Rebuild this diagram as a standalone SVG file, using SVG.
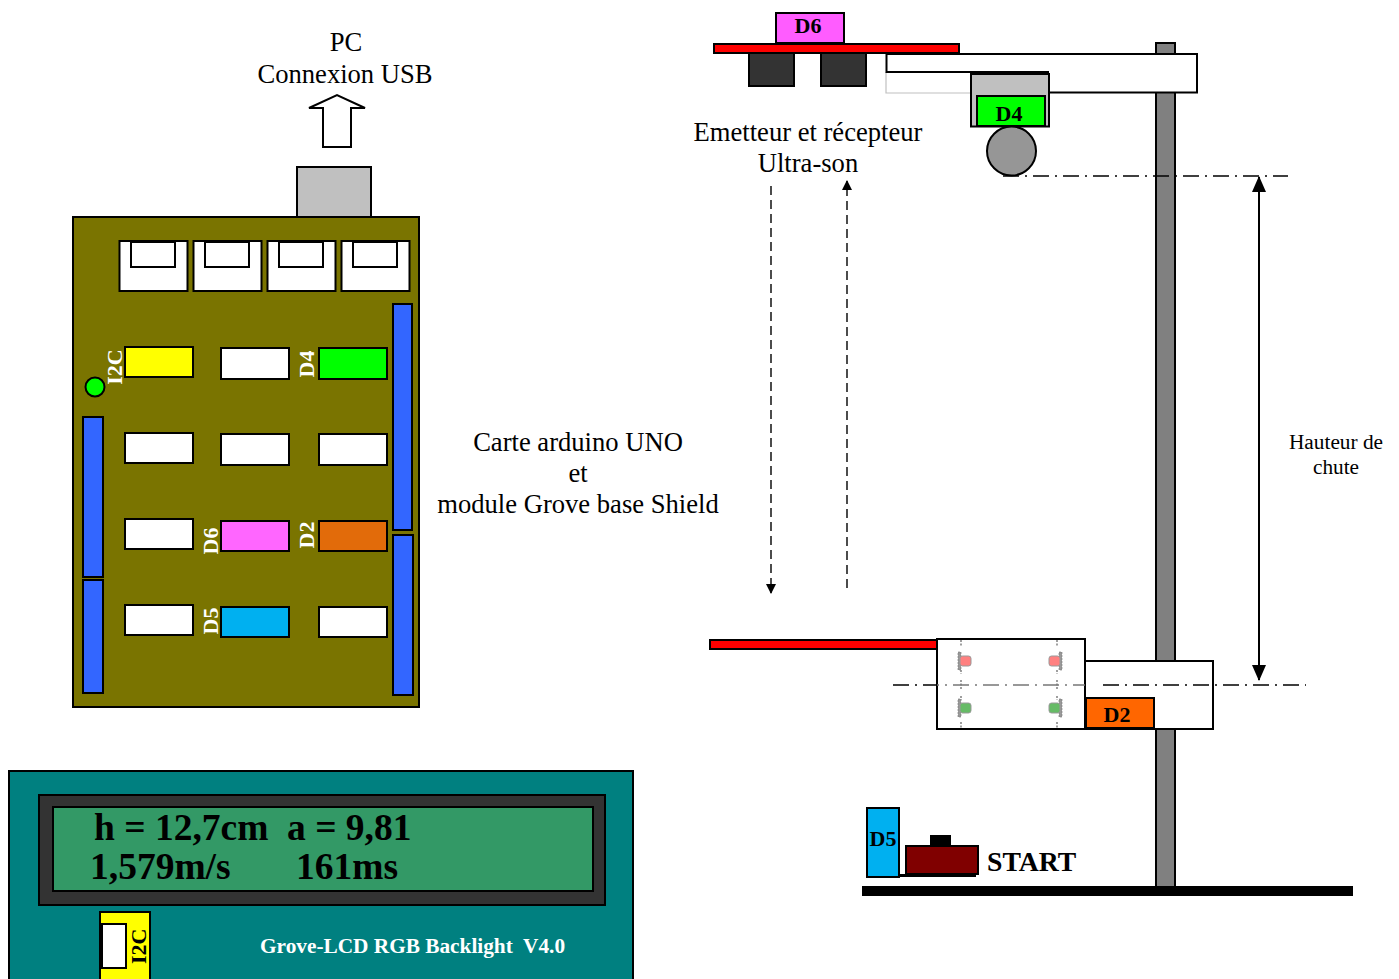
<svg xmlns="http://www.w3.org/2000/svg" width="1399" height="979" viewBox="0 0 1399 979">
<style>
text{font-family:"Liberation Serif","Times New Roman",serif;fill:#000}
.s{stroke:#000;stroke-width:2}
.w{fill:#fff;stroke:#000;stroke-width:2}
.b{fill:#3366ff;stroke:#000;stroke-width:2}
.t{font-size:26.6px;text-anchor:middle}
.l{font-weight:bold;font-size:22px;text-anchor:middle}
.r{font-weight:bold;font-size:22px;fill:#fff;text-anchor:middle}
.lcd{font-weight:bold;font-size:37.5px}
.cd{fill:none;stroke:#000;stroke-width:1.6;stroke-dasharray:16 6 2 6}
.d{fill:none;stroke:#000;stroke-width:1.4;stroke-dasharray:9 5}
.led{stroke:#999;stroke-width:1}
.bar{fill:#999;stroke:#777;stroke-width:.6;stroke-dasharray:2 1}
.tick{stroke:#777;stroke-width:1.4;stroke-dasharray:2 1.5;fill:none}
</style>
<defs>
<marker id="a" markerWidth="10" markerHeight="10" refX="9" refY="5" orient="auto" markerUnits="userSpaceOnUse"><path d="M0,0L10,5L0,10Z"/></marker>
<marker id="A" markerWidth="16" markerHeight="14" refX="15" refY="7" orient="auto-start-reverse" markerUnits="userSpaceOnUse"><path d="M0,0L16,7L0,14Z"/></marker>
</defs>

<g id="pc-label"><text class="t" x="346" y="51">PC</text><text class="t" x="345" y="83">Connexion USB</text></g>
<path id="usb-arrow" d="M323,147V108H309L337,95L365,108H351V147Z" fill="#fff" class="s"/>
<rect id="usb" x="297" y="167" width="74" height="50" fill="#c0c0c0" class="s"/>

<g id="board">
<rect x="73" y="217" width="346" height="490" fill="#7a7400" class="s"/>
<g id="grove-top">
<rect class="w" x="119.5" y="241" width="68" height="50"/><rect class="w" x="131" y="242" width="44" height="25"/>
<rect class="w" x="193.5" y="241" width="68" height="50"/><rect class="w" x="205" y="242" width="44" height="25"/>
<rect class="w" x="267.5" y="241" width="68" height="50"/><rect class="w" x="279" y="242" width="44" height="25"/>
<rect class="w" x="341.5" y="241" width="68" height="50"/><rect class="w" x="353" y="242" width="44" height="25"/>
</g>
<rect class="b" x="393" y="304" width="19" height="226"/>
<rect class="b" x="393" y="535" width="20" height="160"/>
<rect class="b" x="83" y="417" width="20" height="160"/>
<rect class="b" x="83" y="580" width="20" height="113"/>
<circle cx="95" cy="387" r="9.5" fill="#00ff00" class="s"/>
<rect x="125" y="347" width="68" height="30" fill="#ffff00" class="s"/>
<rect class="w" x="221" y="348" width="68" height="31"/>
<rect x="319" y="348" width="68" height="31" fill="#00ff00" class="s"/>
<rect class="w" x="125" y="433" width="68" height="30"/>
<rect class="w" x="221" y="434" width="68" height="31"/>
<rect class="w" x="319" y="434" width="68" height="31"/>
<rect class="w" x="125" y="519" width="68" height="30"/>
<rect x="221" y="521" width="68" height="30" fill="#ff66ff" class="s"/>
<rect x="319" y="521" width="68" height="30" fill="#e26b0a" class="s"/>
<rect class="w" x="125" y="605" width="68" height="30"/>
<rect x="221" y="607" width="68" height="30" fill="#00b0f0" class="s"/>
<rect class="w" x="319" y="607" width="68" height="30"/>
<text class="r" transform="translate(122,367) rotate(-90)">I2C</text>
<text class="r" transform="translate(314,364) rotate(-90)">D4</text>
<text class="r" transform="translate(218,541) rotate(-90)">D6</text>
<text class="r" transform="translate(314,535) rotate(-90)">D2</text>
<text class="r" transform="translate(218,621) rotate(-90)">D5</text>
</g>

<g id="board-label">
<text class="t" x="578" y="451">Carte arduino UNO</text>
<text class="t" x="578" y="482">et</text>
<text class="t" x="578" y="513">module Grove base Shield</text>
</g>

<g id="lcd">
<rect x="9" y="771" width="624" height="220" fill="#008080" class="s"/>
<rect x="39" y="795" width="566" height="110" fill="#333333" class="s"/>
<rect x="53" y="807" width="540" height="84" fill="#339966" class="s"/>
<text class="lcd" x="94" y="840">h = 12,7cm</text>
<text class="lcd" x="287" y="840">a = 9,81</text>
<text class="lcd" x="90" y="879">1,579m/s</text>
<text class="lcd" x="296" y="879">161ms</text>
<rect x="100" y="912" width="50" height="70" fill="#ffff00" class="s"/>
<rect class="w" x="102" y="924" width="24" height="44"/>
<text transform="translate(146,964) rotate(-90)" font-weight="bold" font-size="22">I2C</text>
<text x="260" y="953" font-weight="bold" font-size="21.3" style="fill:#fff;white-space:pre">Grove-LCD RGB Backlight  V4.0</text>
</g>

<g id="stand">
<rect x="1156" y="43" width="19" height="846" fill="#808080" class="s"/>
<rect x="862" y="886" width="491" height="10" fill="#000"/>
</g>

<g id="top-arm">
<path d="M886,72V93H975" fill="none" stroke="#c0c0c0" stroke-width="1.2"/>
<path d="M886.5,54H1197V92.5H1048V72H886.5Z" fill="#fff" class="s"/>
</g>
<g id="d6-sensor">
<rect x="749" y="53" width="45" height="33" fill="#333333" class="s"/>
<rect x="821" y="53" width="45" height="33" fill="#333333" class="s"/>
<rect x="714" y="44" width="245" height="9" fill="#ff0000" class="s"/>
<rect x="776" y="13" width="68" height="30" fill="#ff5cff" class="s"/>
<text class="l" x="808" y="33">D6</text>
</g>
<g id="d4-holder">
<rect x="971" y="74" width="78" height="52.5" fill="#c0c0c0" class="s"/>
<rect x="977" y="96" width="68" height="30" fill="#00ff00" class="s"/>
<text class="l" x="1009" y="121">D4</text>
<circle cx="1011.5" cy="151" r="24.5" fill="#969696" class="s"/>
</g>

<g id="connectors">
<path class="cd" d="M1003,176H1288"/>
<path d="M1259,177V680" fill="none" stroke="#000" stroke-width="2" marker-start="url(#A)" marker-end="url(#A)"/>
<path class="d" d="M771,186V593" marker-end="url(#a)"/>
<path class="d" d="M847,588V181" marker-end="url(#a)"/>
</g>
<g id="ultrason-label">
<text class="t" x="808" y="141">Emetteur et récepteur</text>
<text class="t" x="808" y="172">Ultra-son</text>
</g>
<g id="height-label">
<text x="1336" y="449" font-size="21.3" text-anchor="middle">Hauteur de</text>
<text x="1336" y="474" font-size="21.3" text-anchor="middle">chute</text>
</g>

<g id="carriage">
<rect x="710" y="640" width="228" height="9" fill="#ff0000" class="s"/>
<rect class="w" x="1085" y="661" width="128" height="68"/>
<rect class="w" x="937" y="639" width="148" height="90"/>
<rect x="1086" y="698" width="68" height="30" fill="#ff6600" class="s"/>
<text class="l" x="1117" y="722">D2</text>
<g id="leds">
<path class="tick" d="M961,640V646M961,670V674M961,680V690M961,696V700M961,722V729M1057,640V646M1057,670V674M1057,680V690M1057,696V700M1057,722V729"/>
<rect class="bar" x="958" y="652" width="3" height="18"/>
<rect class="bar" x="1059" y="652" width="3" height="18"/>
<rect class="bar" x="958" y="699" width="3" height="18"/>
<rect class="bar" x="1059" y="699" width="3" height="18"/>
<rect class="led" x="960" y="656" width="11" height="10" rx="2.5" fill="#ff8080"/>
<rect class="led" x="1049" y="656" width="11" height="10" rx="2.5" fill="#ff8080"/>
<rect class="led" x="960" y="703" width="11" height="10" rx="2.5" fill="#66bb66"/>
<rect class="led" x="1049" y="703" width="11" height="10" rx="2.5" fill="#66bb66"/>
</g>
<path d="M893,685H937" class="cd"/>
<path d="M937,685H1085" fill="none" stroke="#777" stroke-width="1.4" stroke-dasharray="16 6 2 6" stroke-dashoffset="14"/>
<path d="M1103,685H1306" class="cd"/>
</g>

<g id="start">
<rect x="867" y="808" width="32" height="69" fill="#00b0f0" class="s"/>
<text class="l" x="883" y="846">D5</text>
<rect x="930" y="835" width="21" height="12" fill="#000"/>
<path d="M899,875.5H976" stroke="#000" stroke-width="3"/>
<rect x="906" y="846" width="72" height="28" fill="#800000" class="s"/>
<text x="987" y="871" font-weight="bold" font-size="27.7">START</text>
</g>
</svg>
